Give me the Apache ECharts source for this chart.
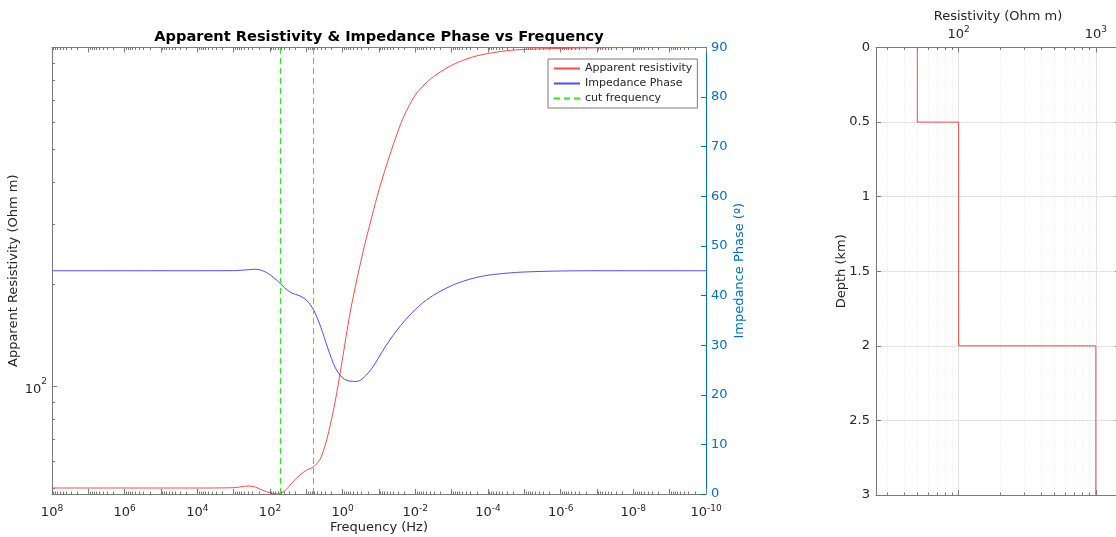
<!DOCTYPE html>
<html>
<head>
<meta charset="utf-8">
<title>Apparent Resistivity & Impedance Phase vs Frequency</title>
<script src="https://cdn.jsdelivr.net/npm/echarts@6/dist/echarts.min.js"></script>
<style>
    html, body { margin: 0; padding: 0; background: #fff; }
    #chart { width: 1116px; height: 537px; }
</style>
</head>
<body>
<div id="chart"></div>
<script>
// sounding curve (frequency in Hz)
var freq = [1e8, 1e6, 1e4, 1000, 631, 398, 251, 158, 100, 63.1, 39.8, 25.1, 15.8, 10,
    6.31, 3.98, 2.51, 1.58, 1, 0.631, 0.398, 0.251, 0.158, 0.1, 0.0631, 0.0398, 0.0251, 0.0158,
    0.01, 0.00631, 0.00398, 0.00251, 0.00158, 0.001, 0.000631, 0.000251, 1e-4, 3.16e-5, 1e-5,
    1e-6, 1e-7, 1e-8, 1e-10];
var appRes = [50.2, 50.2, 50.2, 50.3, 50.6, 50.9, 50.5, 49.4, 48.6, 48.2, 49.2, 51.9, 54.6, 56.6,
    58.0, 61.6, 72.4, 91.2, 121.6, 164, 209, 260, 316, 380, 447, 519, 596, 664,
    724, 767, 804, 834, 861, 885, 906, 938, 959, 977, 986,
    993, 997, 998.5, 999];
var phase = [45, 45, 45, 45.02, 45.1, 45.2, 45.3, 45.0, 44.2, 43.0, 41.6, 40.5, 40.0, 39.1,
    37.1, 33.6, 29.2, 25.4, 23.4, 22.75, 22.7, 23.6, 25.3, 27.6, 30.0, 32.1, 34.0, 35.7,
    37.2, 38.5, 39.6, 40.5, 41.3, 42.0, 42.6, 43.5, 44.1, 44.5, 44.75,
    44.95, 45.0, 45, 45];
var cutFreq = [50.6, 6.33];

// layered model
var layerRes = [50, 100, 1000];
var layerDepth = [0, 0.5, 2, 3];

// axis ticks
var freqLabels = [1e8, 1e6, 1e4, 1e2, 1, 1e-2, 1e-4, 1e-6, 1e-8, 1e-10];
var resLabels = [100];
var resMinorTicks = [50, 60, 70, 80, 90, 200, 300, 400, 500, 600, 700, 800, 900];
var modelResLabels = [100, 1000];
var modelResMinor = [30, 40, 50, 60, 70, 80, 90, 200, 300, 400, 500, 600, 700, 800, 900];

var freqMajor = [];
var freqMinor = [];
for (var k = -10; k <= 8; k++) {
    freqMajor.push(Math.pow(10, k));
    if (k < 8) {
        for (var m = 2; m <= 9; m++) freqMinor.push(m * Math.pow(10, k));
    }
}

var FONT = 'DejaVu Sans';
var AXIS_COLOR = '#7a7a7a';
var TEXT_COLOR = '#262626';
var PHASE_COLOR = '#0072BD';
var RED = '#ff4a4a';
var GREEN = '#22ee22';

function supLabel(v) {
    var e = Math.round(Math.log10(v));
    return '{b|10}{s|' + e + '}';
}
var supRich = {
    b: { fontFamily: FONT, fontSize: 13, color: TEXT_COLOR, lineHeight: 18 },
    s: { fontFamily: FONT, fontSize: 9, color: TEXT_COLOR, verticalAlign: 'top', lineHeight: 11 }
};
var supRichY = {
    b: { fontFamily: FONT, fontSize: 13, color: TEXT_COLOR, lineHeight: 18, padding: [6, 0, 0, 0] },
    s: { fontFamily: FONT, fontSize: 9, color: TEXT_COLOR, verticalAlign: 'top', lineHeight: 11 }
};
var nameStyle = { fontFamily: FONT, fontSize: 13, color: TEXT_COLOR };

// axis that only draws ticks (and maybe grid lines)
function tickAxis(grid, type, pos, min, max, ticks, len, inverse, split) {
    return {
        gridIndex: grid, type: type, position: pos, min: min, max: max, inverse: !!inverse,
        axisLine: { show: false, onZero: false },
        axisTick: { show: true, inside: true, length: len, customValues: ticks,
            lineStyle: { color: AXIS_COLOR } },
        axisLabel: { show: false },
        splitLine: split || { show: false }
    };
}

var modelPts = [];
for (var i = 0; i < layerRes.length; i++) {
    modelPts.push([layerRes[i], layerDepth[i]]);
    modelPts.push([layerRes[i], layerDepth[i + 1]]);
}

var chart = echarts.init(document.getElementById('chart'));
chart.setOption({
    animation: false,
    backgroundColor: '#fff',
    graphic: [{
        type: 'text', x: 379, y: 37,
        style: { text: 'Apparent Resistivity & Impedance Phase vs Frequency',
            align: 'center', verticalAlign: 'middle',
            fontFamily: FONT, fontSize: 14.6, fontWeight: 'bold', fill: '#000' }
    }],
    legend: {
        left: 548, top: 59, orient: 'vertical',
        padding: [4, 5], itemWidth: 26, itemHeight: 10, itemGap: 4,
        borderColor: '#7a7a7a', borderWidth: 1, borderRadius: 0, backgroundColor: '#fff',
        itemStyle: { opacity: 0 },
        textStyle: { fontFamily: FONT, fontSize: 11, color: TEXT_COLOR },
        data: ['Apparent resistivity', 'Impedance Phase', 'cut frequency']
    },
    grid: [
        { left: 52, top: 47.5, width: 654, height: 446.5, outerBoundsMode: 'none', containLabel: false },
        { left: 876, top: 47.5, width: 244, height: 447.5, outerBoundsMode: 'none', containLabel: false }
    ],
    xAxis: [
        {
            gridIndex: 0, type: 'log', position: 'bottom', inverse: true, min: 1e-10, max: 1e8,
            axisLine: { show: true, onZero: false, lineStyle: { color: AXIS_COLOR } },
            axisTick: { inside: true, length: 5, customValues: freqMajor, lineStyle: { color: AXIS_COLOR } },
            axisLabel: { customValues: freqLabels, formatter: supLabel, rich: supRich, margin: 10 },
            splitLine: { show: false },
            name: 'Frequency (Hz)', nameLocation: 'middle', nameGap: 27, nameMoveOverlap: false,
            nameTextStyle: nameStyle
        },
        tickAxis(0, 'log', 'bottom', 1e-10, 1e8, freqMinor, 2.5, true),
        {
            gridIndex: 0, type: 'log', position: 'top', inverse: true, min: 1e-10, max: 1e8,
            axisLine: { show: true, onZero: false, lineStyle: { color: AXIS_COLOR } },
            axisTick: { inside: true, length: 5, customValues: freqMajor, lineStyle: { color: AXIS_COLOR } },
            axisLabel: { show: false }, splitLine: { show: false }
        },
        tickAxis(0, 'log', 'top', 1e-10, 1e8, freqMinor, 2.5, true),
        {
            gridIndex: 1, type: 'log', position: 'top', min: 25, max: 1500,
            axisLine: { show: true, onZero: false, lineStyle: { color: AXIS_COLOR } },
            axisTick: { inside: true, length: 5, customValues: modelResLabels, lineStyle: { color: AXIS_COLOR } },
            axisLabel: { customValues: modelResLabels, formatter: supLabel, rich: supRich, margin: 4 },
            splitLine: { show: true, lineStyle: { color: '#e3e3e3', width: 1 } },
            name: 'Resistivity (Ohm m)', nameLocation: 'middle', nameGap: 24, nameMoveOverlap: false,
            nameTextStyle: nameStyle
        },
        tickAxis(1, 'log', 'top', 25, 1500, modelResMinor, 2.5, false,
            { show: true, lineStyle: { color: '#e6e6e6', width: 1, type: [1, 2] } }),
        {
            gridIndex: 1, type: 'log', position: 'bottom', min: 25, max: 1500,
            axisLine: { show: true, onZero: false, lineStyle: { color: AXIS_COLOR } },
            axisTick: { inside: true, length: 5, customValues: modelResLabels, lineStyle: { color: AXIS_COLOR } },
            axisLabel: { show: false }, splitLine: { show: false }
        },
        tickAxis(1, 'log', 'bottom', 25, 1500, modelResMinor, 2.5, false)
    ],
    yAxis: [
        {
            gridIndex: 0, type: 'log', position: 'left', min: 48.2, max: 999,
            axisLine: { show: true, onZero: false, lineStyle: { color: AXIS_COLOR } },
            axisTick: { inside: true, length: 5, customValues: resLabels, lineStyle: { color: AXIS_COLOR } },
            axisLabel: { customValues: resLabels, formatter: supLabel, rich: supRichY, margin: 5 },
            splitLine: { show: false },
            name: 'Apparent Resistivity (Ohm m)', nameLocation: 'middle', nameRotate: 90, nameGap: 32,
            nameMoveOverlap: false, nameTextStyle: nameStyle
        },
        tickAxis(0, 'log', 'left', 48.2, 999, resMinorTicks, 3, false),
        {
            gridIndex: 0, type: 'value', position: 'right', min: 0, max: 90, interval: 10,
            axisLine: { show: true, onZero: false, lineStyle: { color: PHASE_COLOR } },
            axisTick: { inside: true, length: 5, lineStyle: { color: PHASE_COLOR } },
            axisLabel: { fontFamily: FONT, fontSize: 13, color: PHASE_COLOR, margin: 5 },
            splitLine: { show: false },
            name: 'Impedance Phase (º)', nameLocation: 'middle', nameRotate: 90, nameGap: 27,
            nameMoveOverlap: false,
            nameTextStyle: { fontFamily: FONT, fontSize: 13, color: PHASE_COLOR }
        },
        {
            gridIndex: 1, type: 'value', position: 'left', min: 0, max: 3, interval: 0.5, inverse: true,
            axisLine: { show: true, onZero: false, lineStyle: { color: AXIS_COLOR } },
            axisTick: { inside: true, length: 5, lineStyle: { color: AXIS_COLOR } },
            axisLabel: { fontFamily: FONT, fontSize: 13, color: TEXT_COLOR, margin: 6 },
            splitLine: { show: true, lineStyle: { color: '#e3e3e3', width: 1 } },
            name: 'Depth (km)', nameLocation: 'middle', nameRotate: 90, nameGap: 28,
            nameMoveOverlap: false, nameTextStyle: nameStyle
        },
        {
            gridIndex: 1, type: 'value', position: 'right', min: 0, max: 3, interval: 0.5, inverse: true,
            axisLine: { show: true, onZero: false, lineStyle: { color: AXIS_COLOR } },
            axisTick: { inside: true, length: 5, lineStyle: { color: AXIS_COLOR } },
            axisLabel: { show: false }, splitLine: { show: false }
        }
    ],
    series: [
        {
            name: 'Apparent resistivity', type: 'line', xAxisIndex: 0, yAxisIndex: 0,
            data: freq.map(function (f, i) { return [f, appRes[i]]; }),
            smooth: 0.3, showSymbol: false, symbol: 'none',
            lineStyle: { color: RED, width: 1 }, itemStyle: { color: RED }, z: 3
        },
        {
            name: 'Impedance Phase', type: 'line', xAxisIndex: 0, yAxisIndex: 2,
            data: freq.map(function (f, i) { return [f, phase[i]]; }),
            smooth: 0.3, showSymbol: false, symbol: 'none',
            lineStyle: { color: '#4d4dff', width: 1 }, itemStyle: { color: '#4d4dff' }, z: 3
        },
        {
            name: 'cut frequency', type: 'line', xAxisIndex: 0, yAxisIndex: 0,
            data: [], symbol: 'none',
            lineStyle: { color: GREEN, width: 1, type: [6, 4] }, itemStyle: { color: GREEN },
            markLine: {
                silent: true, symbol: 'none', label: { show: false },
                lineStyle: { color: GREEN, width: 1, type: [6, 4] },
                data: cutFreq.map(function (f) { return { xAxis: f }; })
            }
        },
        {
            name: 'model', type: 'line', xAxisIndex: 4, yAxisIndex: 3,
            data: modelPts, showSymbol: false, symbol: 'none',
            lineStyle: { color: RED, width: 1 }, z: 3
        }
    ]
});
</script>
</body>
</html>
